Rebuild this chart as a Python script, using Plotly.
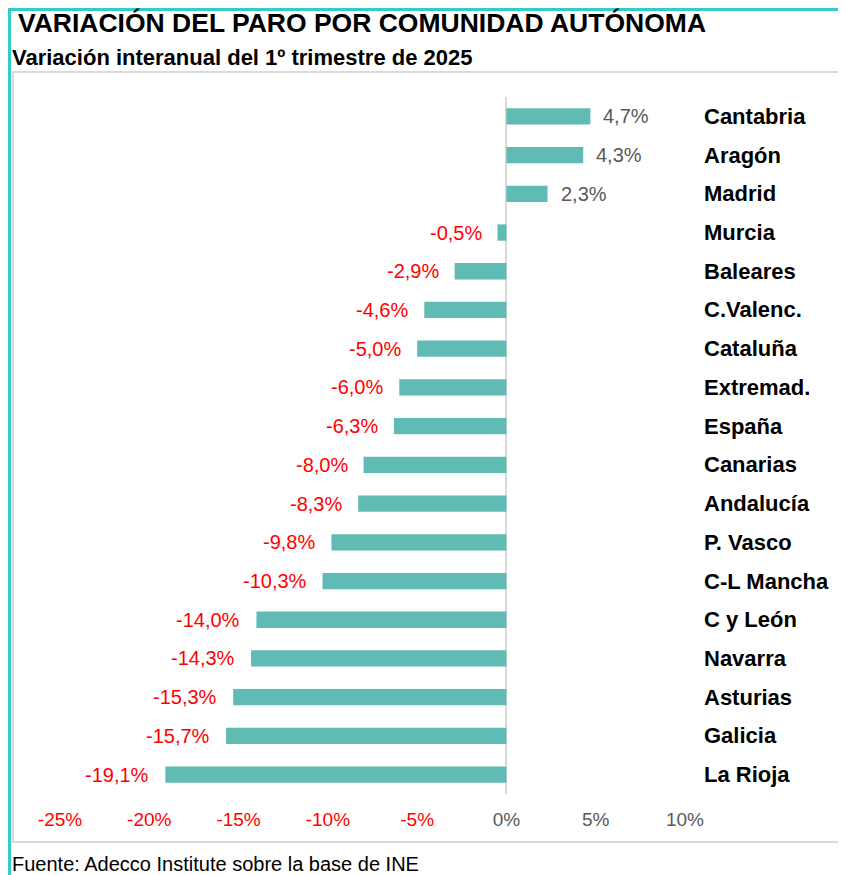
import plotly.graph_objects as go

regions = ["Cantabria", "Aragón", "Madrid", "Murcia", "Baleares", "C.Valenc.", "Cataluña",
           "Extremad.", "España", "Canarias", "Andalucía", "P. Vasco", "C-L Mancha",
           "C y León", "Navarra", "Asturias", "Galicia", "La Rioja"]
values = [4.7, 4.3, 2.3, -0.5, -2.9, -4.6, -5.0, -6.0, -6.3, -8.0, -8.3, -9.8, -10.3,
          -14.0, -14.3, -15.3, -15.7, -19.1]
tick_vals = [-25, -20, -15, -10, -5, 0, 5, 10]
tick_text = ["-25%", "-20%", "-15%", "-10%", "-5%", "0%", "5%", "10%"]

title = "VARIACIÓN DEL PARO POR COMUNIDAD AUTÓNOMA"
subtitle = "Variación interanual del 1º trimestre de 2025"
source = "Fuente: Adecco Institute sobre la base de INE"

# the page adds an 8px margin, so the figure is laid out in page coordinates minus 8
OFF = 8
W, H = 846 - OFF, 875 - OFF
L, R, T, B = 60 - OFF, 161, 97 - OFF, 81
PW, PH = W - L - R, H - T - B

def px(x):
    return (x - OFF - L) / PW

def py(y):
    return (H - B - (y - OFF)) / PH

FONT = "Liberation Sans, Arial, sans-serif"
BAR = "#5FBBB4"
RED = "#FF0000"
GRAY = "#595959"
TEAL = "#33CCCC"

fig = go.Figure(go.Bar(
    x=values, y=regions, orientation="h",
    marker=dict(color=BAR, line=dict(width=0)),
    width=0.42, hoverinfo="skip",
))

ann = []
for r, v in zip(regions, values):
    lab = f"{v:.1f}%".replace(".", ",")
    ann.append(dict(
        x=v, y=r, xref="x", yref="y", text=lab, showarrow=False,
        xanchor="left" if v >= 0 else "right", xshift=11 if v >= 0 else -14,
        font=dict(family=FONT, size=20, color=GRAY if v >= 0 else RED),
    ))
    ann.append(dict(
        x=px(702), y=r, xref="paper", yref="y", text=f"<b>{r}</b>", showarrow=False,
        xanchor="left", font=dict(family=FONT, size=22, color="#000000"),
    ))

ann += [
    dict(x=px(16), y=py(23), xref="paper", yref="paper", text=f"<b>{title}</b>",
         showarrow=False, xanchor="left", yanchor="middle",
         font=dict(family=FONT, size=26.5, color="#000000")),
    dict(x=px(10), y=py(57), xref="paper", yref="paper", text=f"<b>{subtitle}</b>",
         showarrow=False, xanchor="left", yanchor="middle",
         font=dict(family=FONT, size=22, color="#000000")),
    dict(x=px(10), y=py(864), xref="paper", yref="paper", text=source,
         showarrow=False, xanchor="left", yanchor="middle",
         font=dict(family=FONT, size=20, color="#000000")),
]

colored = [f'<span style="color:{RED if v < 0 else GRAY}">{t}</span>'
           for v, t in zip(tick_vals, tick_text)]

shapes = [
    dict(type="line", xref="paper", yref="paper", x0=px(9.5), x1=px(9.5), y0=py(8), y1=py(875),
         line=dict(color=TEAL, width=3)),
    dict(type="line", xref="paper", yref="paper", x0=px(8), x1=px(846), y0=py(9.5), y1=py(9.5),
         line=dict(color=TEAL, width=3)),
    dict(type="rect", xref="paper", yref="paper", x0=px(13), x1=px(841.5), y0=py(72), y1=py(842),
         line=dict(color="#D9D9D9", width=2), layer="below"),
]

fig.update_layout(
    width=W, height=H, margin=dict(l=L, r=R, t=T, b=B),
    paper_bgcolor="white", plot_bgcolor="white", showlegend=False,
    font=dict(family=FONT),
    xaxis=dict(range=[-25, 10], tickvals=tick_vals, ticktext=colored,
               showgrid=False, zeroline=True, zerolinecolor="#D9D9D9", zerolinewidth=2,
               showline=False, ticks="", tickfont=dict(family=FONT, size=19, color=GRAY),
               ticklabelstandoff=12, fixedrange=True),
    yaxis=dict(autorange="reversed", showticklabels=False, showgrid=False, zeroline=False,
               showline=False, ticks="", fixedrange=True),
    annotations=ann, shapes=shapes,
)

fig.write_html("out.html")
